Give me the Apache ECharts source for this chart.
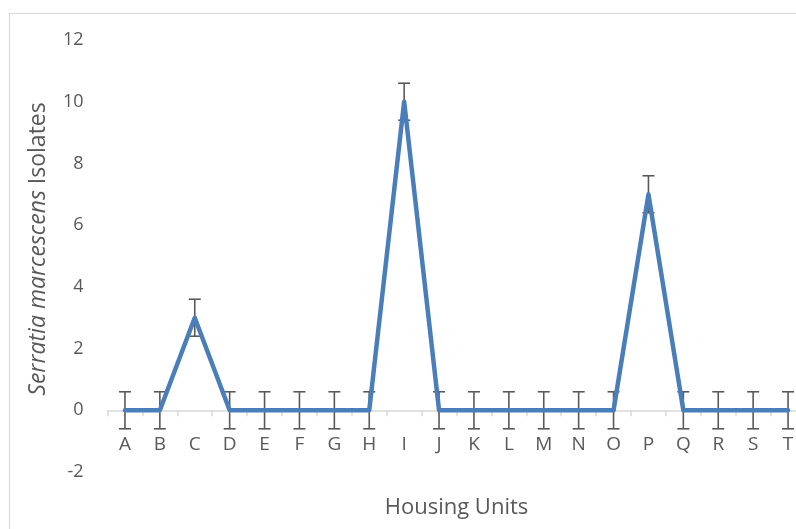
<!DOCTYPE html>
<html>
<head>
<meta charset="utf-8">
<script src="https://cdn.jsdelivr.net/npm/echarts@6/dist/echarts.min.js"></script>
<style>html,body{margin:0;padding:0;background:#fff;}#c{width:796px;height:529px;}</style>
</head>
<body>
<div id="c"></div>
<script>
var categories = ['A','B','C','D','E','F','G','H','I','J','K','L','M','N','O','P','Q','R','S','T'];
var values = [0,0,3,0,0,0,0,0,10,0,0,0,0,0,0,7,0,0,0,0];
var errors = [0.6,0.6,0.6,0.6,0.6,0.6,0.6,0.6,0.6,0.6,0.6,0.6,0.6,0.6,0.6,0.6,0.6,0.6,0.6,0.6];
var yTicks = {min: -2, max: 12, interval: 2};

var errData = values.map(function (v, i) { return [i, v - errors[i], v + errors[i]]; });
var FONT = 'Open Sans';
var chart = echarts.init(document.getElementById('c'), null, {renderer: 'canvas'});
chart.setOption({
  animation: false,
  backgroundColor: '#fff',
  graphic: [{
    type: 'rect', silent: true, z: -10,
    shape: {x: 9.5, y: 13.5, width: 820, height: 540},
    style: {fill: 'none', stroke: '#d9d9d9', lineWidth: 1.2}
  }],
  grid: {left: 107.5, right: -9.5, top: 40, bottom: 57, containLabel: false, outerBoundsMode: 'none'},
  xAxis: [{
    type: 'category',
    data: categories,
    boundaryGap: true,
    axisLine: {onZero: true, lineStyle: {color: '#d9d9d9', width: 1.5}},
    axisTick: {show: true, inside: false, length: 6, lineStyle: {color: '#d9d9d9', width: 1.5}},
    axisLabel: {show: false},
    splitLine: {show: false}
  }, {
    type: 'category',
    data: categories,
    boundaryGap: true,
    position: 'bottom',
    name: 'Housing Units',
    nameLocation: 'middle',
    nameGap: 25,
    nameMoveOverlap: false,
    nameTextStyle: {color: '#595959', fontFamily: FONT, fontSize: 22},
    axisLine: {show: false, onZero: false},
    axisTick: {show: false},
    axisLabel: {color: '#595959', fontFamily: FONT, fontSize: 19, margin: -37},
    splitLine: {show: false}
  }],
  yAxis: {
    type: 'value',
    min: yTicks.min, max: yTicks.max, interval: yTicks.interval,
    name: '{i|Serratia marcescens} {n|Isolates}',
    nameLocation: 'middle',
    nameGap: 58,
    nameRotate: 90,
    nameTextStyle: {
      color: '#595959', fontFamily: FONT, fontSize: 23,
      padding: [0, 0, 0, 14],
      rich: {
        i: {fontStyle: 'italic', color: '#595959', fontFamily: FONT, fontSize: 23},
        n: {color: '#595959', fontFamily: FONT, fontSize: 23}
      }
    },
    axisLine: {show: false},
    axisTick: {show: false},
    splitLine: {show: false},
    axisLabel: {color: '#595959', fontFamily: FONT, fontSize: 18, margin: 24}
  },
  series: [
    {
      type: 'custom',
      z: 1,
      data: errData,
      renderItem: function (params, api) {
        var x = api.value(0);
        var lo = api.coord([x, api.value(1)]);
        var hi = api.coord([x, api.value(2)]);
        var hw = 6;
        var st = {stroke: '#595959', lineWidth: 1.6};
        return {
          type: 'group',
          children: [
            {type: 'line', shape: {x1: lo[0], y1: lo[1], x2: hi[0], y2: hi[1]}, style: st},
            {type: 'line', shape: {x1: lo[0] - hw, y1: lo[1], x2: lo[0] + hw, y2: lo[1]}, style: st},
            {type: 'line', shape: {x1: hi[0] - hw, y1: hi[1], x2: hi[0] + hw, y2: hi[1]}, style: st}
          ]
        };
      }
    },
    {
      type: 'line',
      z: 3,
      data: values,
      symbol: 'none',
      lineStyle: {color: '#4a7ebb', width: 4.5, cap: 'round', join: 'round'}
    }
  ]
});
</script>
</body>
</html>
